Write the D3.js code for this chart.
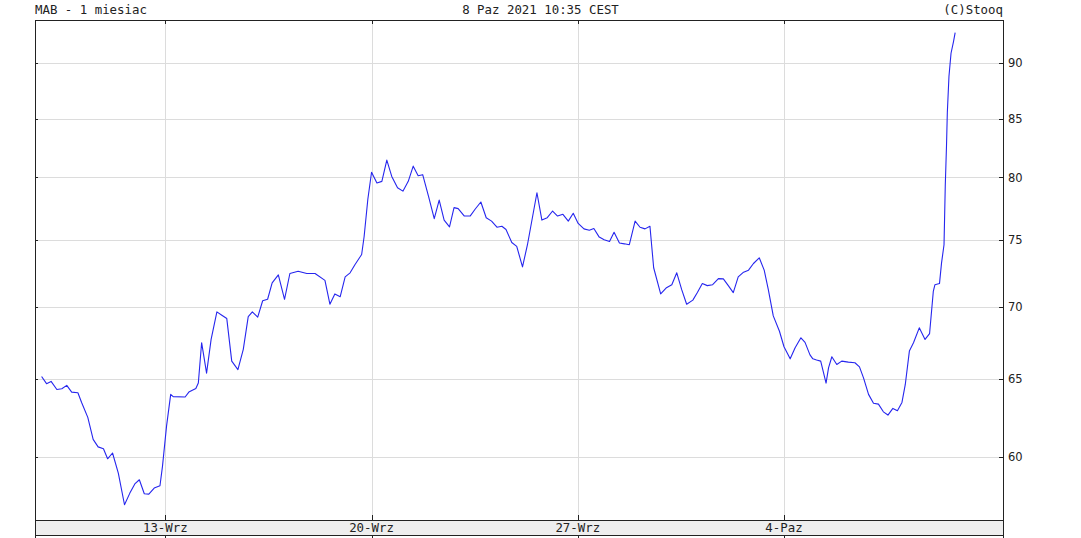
<!DOCTYPE html>
<html>
<head>
<meta charset="utf-8">
<script src="https://cdn.jsdelivr.net/npm/d3@7"></script>
<style>
  body { margin: 0; background: #fff; }
  svg { display: block; }
</style>
</head>
<body>
<div id="central-container"></div>
<script>
// chart data
// time is in trading days from the 8-Wrz open
var days = [0.00, 0.12, 0.23, 0.37, 0.49, 0.61, 0.73, 0.88, 0.97, 1.12,
  1.25, 1.37, 1.50, 1.60, 1.72, 1.86, 2.01, 2.14, 2.26, 2.37,
  2.49, 2.60, 2.73, 2.87, 2.93, 3.03, 3.13, 3.19, 3.48, 3.57,
  3.74, 3.80, 3.88, 4.00, 4.11, 4.25, 4.37, 4.49, 4.61, 4.76,
  4.89, 5.01, 5.11, 5.24, 5.36, 5.48, 5.59, 5.74, 5.89, 6.02,
  6.22, 6.43, 6.63, 6.87, 6.99, 7.11, 7.24, 7.36, 7.48, 7.60,
  7.76, 7.82, 7.91, 8.00, 8.13, 8.25, 8.37, 8.49, 8.63, 8.76,
  8.89, 9.01, 9.13, 9.24, 9.38, 9.52, 9.64, 9.76, 9.89, 10.00,
  10.10, 10.25, 10.39, 10.51, 10.65, 10.78, 10.91, 11.04, 11.16, 11.26,
  11.40, 11.52, 11.66, 11.78, 12.01, 12.13, 12.26, 12.39, 12.51, 12.64,
  12.77, 12.89, 13.01, 13.15, 13.28, 13.39, 13.52, 13.64, 13.77, 13.88,
  14.01, 14.13, 14.25, 14.39, 14.51, 14.63, 14.75, 14.84, 15.01, 15.14,
  15.28, 15.40, 15.52, 15.64, 15.79, 15.90, 16.02, 16.14, 16.27, 16.41,
  16.53, 16.65, 16.77, 16.89, 17.02, 17.14, 17.26, 17.40, 17.52, 17.62,
  17.74, 17.89, 18.00, 18.15, 18.27, 18.41, 18.51, 18.63, 18.70, 18.79,
  18.89, 19.02, 19.08, 19.16, 19.28, 19.40, 19.56, 19.72, 19.83, 19.93,
  20.05, 20.17, 20.29, 20.41, 20.52, 20.64, 20.75, 20.86, 20.94, 21.04,
  21.14, 21.28, 21.42, 21.53, 21.62, 21.66, 21.77, 21.82, 21.88, 21.91,
  21.94, 21.96, 22.00, 22.05, 22.11, 22.15]

var prices = [65.16, 64.68, 64.83, 64.29, 64.34, 64.57, 64.12, 64.08, 63.44, 62.47,
  61.07, 60.60, 60.48, 59.86, 60.22, 58.98, 57.09, 57.78, 58.33, 58.58,
  57.74, 57.72, 58.08, 58.22, 59.38, 61.93, 63.97, 63.82, 63.80, 64.12,
  64.36, 64.72, 67.47, 65.39, 67.70, 69.65, 69.41, 69.17, 66.20, 65.62,
  67.01, 69.31, 69.65, 69.27, 70.45, 70.56, 71.76, 72.36, 70.56, 72.46,
  72.63, 72.46, 72.46, 71.95, 70.20, 70.95, 70.75, 72.21, 72.51, 73.14,
  73.89, 75.28, 78.22, 80.43, 79.55, 79.68, 81.45, 80.09, 79.15, 78.88,
  79.68, 80.94, 80.14, 80.23, 78.48, 76.67, 78.16, 76.56, 76.03, 77.55,
  77.47, 76.88, 76.88, 77.42, 78.00, 76.75, 76.48, 76.00, 76.08, 75.82,
  74.81, 74.51, 72.96, 74.64, 78.75, 76.56, 76.75, 77.28, 76.88, 77.02,
  76.48, 77.10, 76.30, 75.87, 75.76, 75.90, 75.23, 75.02, 74.89, 75.60,
  74.77, 74.71, 74.64, 76.48, 76.00, 75.87, 76.08, 72.89, 70.95, 71.38,
  71.63, 72.51, 71.26, 70.20, 70.50, 71.05, 71.71, 71.56, 71.63, 72.08,
  72.06, 71.56, 71.05, 72.21, 72.56, 72.71, 73.21, 73.64, 72.71, 71.26,
  69.36, 68.27, 67.19, 66.36, 67.12, 67.81, 67.49, 66.63, 66.36, 66.28,
  66.20, 64.72, 65.74, 66.50, 65.97, 66.20, 66.13, 66.09, 65.81, 65.05,
  63.97, 63.39, 63.33, 62.83, 62.62, 63.05, 62.90, 63.44, 64.61, 66.89,
  67.47, 68.51, 67.70, 68.11, 71.13, 71.63, 71.71, 73.26, 74.64, 79.28,
  82.64, 85.51, 88.80, 90.93, 92.03, 92.88]

var tickDays = [3, 8, 13, 18]
var tickLabels = ["13-Wrz", "20-Wrz", "27-Wrz", "4-Paz"]
var priceTicks = [60, 65, 70, 75, 80, 85, 90]

var titleLeft = "MAB - 1 miesiac"
var titleMid = "8 Paz 2021 10:35 CEST"
var titleRight = "(C)Stooq"

// set the dimensions of the graph
const width = 1081
const height = 538
const plot = { left: 35, right: 1003, top: 20, bottom: 520 }
const bandH = 15
const mono = "'DejaVu Sans Mono', 'Liberation Mono', monospace"

var svg = d3.select("#central-container")
  .append("svg")
  .attr("width", width)
  .attr("height", height)

var data = days.map(function(d, i) { return { t: d, v: prices[i] } })

// x runs over trading days, y is log like on stooq
var x = d3.scaleLinear()
  .domain([-0.16, 23.31])
  .range([plot.left, plot.right])

var y = d3.scaleLog()
  .domain([56.2, 94.1])
  .range([plot.bottom, plot.top])

// grid
svg.append("g")
  .selectAll("line")
  .data(tickDays)
  .enter().append("line")
    .attr("x1", function(d) { return Math.round(x(d)) + 0.5 })
    .attr("x2", function(d) { return Math.round(x(d)) + 0.5 })
    .attr("y1", plot.top)
    .attr("y2", plot.bottom)
    .attr("stroke", "#dcdcdc")

svg.append("g")
  .selectAll("line")
  .data(priceTicks)
  .enter().append("line")
    .attr("x1", plot.left)
    .attr("x2", plot.right)
    .attr("y1", function(d) { return Math.round(y(d)) + 0.5 })
    .attr("y2", function(d) { return Math.round(y(d)) + 0.5 })
    .attr("stroke", "#dcdcdc")

// date band under the plot
svg.append("rect")
  .attr("x", plot.left)
  .attr("y", plot.bottom)
  .attr("width", plot.right - plot.left)
  .attr("height", bandH)
  .attr("fill", "#eeeeee")

svg.append("path")
  .datum(data)
  .attr("fill", "none")
  .attr("stroke", "#2626ee")
  .attr("stroke-width", 1.1)
  .attr("stroke-linejoin", "round")
  .attr("d", d3.line()
    .x(function(d) { return x(d.t) })
    .y(function(d) { return y(d.v) }))

// frame
var frame = svg.append("g")
  .attr("stroke", "#222")
  .attr("shape-rendering", "crispEdges")

frame.append("line").attr("x1", plot.left).attr("x2", plot.right).attr("y1", plot.top + 0.5).attr("y2", plot.top + 0.5)
frame.append("line").attr("x1", plot.left).attr("x2", plot.right).attr("y1", plot.bottom + 0.5).attr("y2", plot.bottom + 0.5)
frame.append("line").attr("x1", plot.left).attr("x2", plot.right).attr("y1", plot.bottom + bandH + 0.5).attr("y2", plot.bottom + bandH + 0.5)
frame.append("line").attr("x1", plot.left + 0.5).attr("x2", plot.left + 0.5).attr("y1", plot.top).attr("y2", height)
frame.append("line").attr("x1", plot.right + 0.5).attr("x2", plot.right + 0.5).attr("y1", plot.top).attr("y2", height)

// small ticks on the date lines
tickDays.forEach(function(d) {
  var xp = Math.round(x(d)) + 0.5
  frame.append("line").attr("x1", xp).attr("x2", xp).attr("y1", plot.top).attr("y2", plot.top + 4)
  frame.append("line").attr("x1", xp).attr("x2", xp).attr("y1", plot.bottom - 5).attr("y2", plot.bottom)
  frame.append("line").attr("x1", xp).attr("x2", xp).attr("y1", plot.bottom + bandH).attr("y2", height)
})

// price ticks on both sides
priceTicks.forEach(function(p) {
  var yp = Math.round(y(p)) + 0.5
  frame.append("line").attr("x1", plot.left).attr("x2", plot.left + 3).attr("y1", yp).attr("y2", yp)
  frame.append("line").attr("x1", plot.right - 4).attr("x2", plot.right).attr("y1", yp).attr("y2", yp)
})

// labels
svg.append("g")
  .selectAll("text")
  .data(priceTicks)
  .enter().append("text")
    .attr("x", plot.right + 5)
    .attr("y", function(d) { return y(d) })
    .attr("dy", "0.36em")
    .attr("font-family", "'DejaVu Sans', Verdana, sans-serif")
    .attr("font-size", "11.5px")
    .attr("fill", "#222")
    .text(function(d) { return d })

svg.append("g")
  .selectAll("text")
  .data(tickDays)
  .enter().append("text")
    .attr("x", function(d) { return x(d) })
    .attr("y", plot.bottom + 12)
    .attr("text-anchor", "middle")
    .attr("font-family", mono)
    .attr("font-size", "12.4px")
    .attr("fill", "#222")
    .text(function(d, i) { return tickLabels[i] })

svg.append("text")
  .attr("x", plot.left)
  .attr("y", 14)
  .attr("font-family", mono)
  .attr("font-size", "12.4px")
  .attr("fill", "#222")
  .text(titleLeft)

svg.append("text")
  .attr("x", width / 2)
  .attr("y", 14)
  .attr("text-anchor", "middle")
  .attr("font-family", mono)
  .attr("font-size", "12.4px")
  .attr("fill", "#222")
  .text(titleMid)

svg.append("text")
  .attr("x", plot.right)
  .attr("y", 14)
  .attr("text-anchor", "end")
  .attr("font-family", mono)
  .attr("font-size", "12.4px")
  .attr("fill", "#222")
  .text(titleRight)
</script>
</body>
</html>
